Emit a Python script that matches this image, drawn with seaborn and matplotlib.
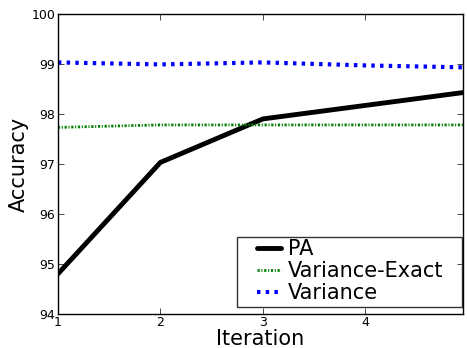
import matplotlib
matplotlib.use("Agg")
import matplotlib.pyplot as plt
from matplotlib.patches import Rectangle
import pandas as pd
import seaborn as sns

# ------------------------- Data -------------------------
iterations = [1, 2, 3, 4, 5]
pa = [94.80, 97.03, 97.90, 98.17, 98.44]
variance_exact = [97.73, 97.78, 97.78, 97.78, 97.78]
variance = [99.03, 98.99, 99.03, 98.97, 98.93]

series_names = ["PA", "Variance-Exact", "Variance"]
series_values = [pa, variance_exact, variance]

rows = []
for name, vals in zip(series_names, series_values):
    for it, v in zip(iterations, vals):
        rows.append((it, v, name))
df = pd.DataFrame(rows, columns=["iteration", "accuracy", "method"])

# ------------------------- Styling -------------------------
sns.set_theme(style="white")
plt.rcParams["font.family"] = ["DejaVu Sans"]
plt.rcParams.update({
    "text.color": "black",
    "axes.labelcolor": "black",
    "xtick.color": "black",
    "ytick.color": "black",
    "xtick.direction": "in",
    "ytick.direction": "in",
    "xtick.top": True,
    "ytick.right": True,
    "xtick.bottom": True,
    "ytick.left": True,
    "xtick.major.size": 4,
    "ytick.major.size": 4,
    "xtick.major.width": 0.5,
    "ytick.major.width": 0.5,
    "axes.edgecolor": "black",
    "axes.linewidth": 1.0,
})

# dash patterns are in units of line width (matplotlib scales them)
styles = {
    "PA": dict(color="black", lw=3.5, dashes=None),
    "Variance-Exact": dict(color="green", lw=2.0, dashes=(0.8, 0.6, 0.4, 0.6)),
    "Variance": dict(color="blue", lw=3.0, dashes=(0.83, 1.26)),
}

fig = plt.figure(figsize=(4.67, 3.48), dpi=100)
ax = fig.add_axes([0.124, 0.098, 0.867, 0.862])

for name in series_names:
    st = styles[name]
    sub = df[df["method"] == name]
    sns.lineplot(data=sub, x="iteration", y="accuracy", ax=ax,
                 color=st["color"], linewidth=st["lw"], label=name)
    ln = ax.lines[-1]
    if st["dashes"] is not None:
        ln.set_dashes(st["dashes"])
        ln.set_dash_capstyle("butt")

ax.set_xlim(1, 4.95)
ax.set_ylim(94, 100)
ax.set_xticks([1, 2, 3, 4])
ax.set_yticks([94, 95, 96, 97, 98, 99, 100])
ax.tick_params(labelsize=9, pad=2)
ax.tick_params(axis="x", pad=1.5)

ax.set_xlabel("Iteration", fontsize=15, labelpad=0)
ax.set_ylabel("Accuracy", fontsize=15, labelpad=2)

# legend without its own frame, box drawn separately to get the wide side padding
leg = ax.legend(loc="center left", bbox_to_anchor=(0.491, 0.142), borderaxespad=0,
                fontsize=15, handlelength=1.15, handletextpad=0.34, labelspacing=0.1,
                frameon=False, borderpad=0)
ax.add_patch(Rectangle((0.442, 0.023), 0.556, 0.234, transform=ax.transAxes,
                       fill=False, edgecolor="#333333", linewidth=1.0, zorder=5))

fig.savefig("out.png", dpi=100)
